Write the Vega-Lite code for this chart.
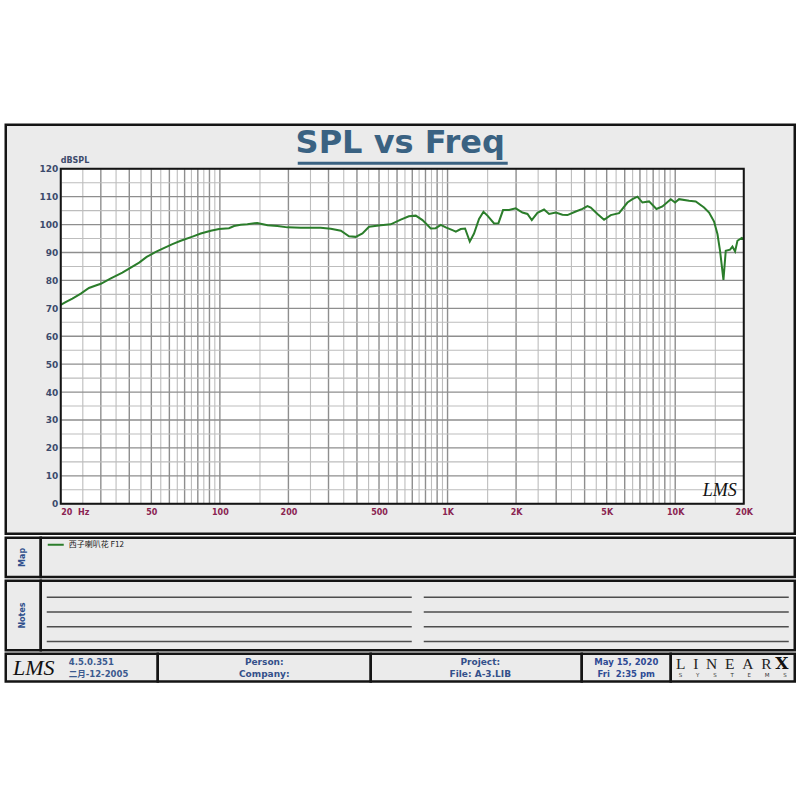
{
  "$schema": "https://vega.github.io/schema/vega-lite/v6.json",
  "background": "white",
  "padding": {"top": 122.75, "left": 3.75, "right": 4.75, "bottom": 116.75},
  "spacing": 0,
  "config": {
    "view": {"fill": "#ebebeb", "stroke": "#141414", "strokeWidth": 2.5},
    "axisX": {
      "offset": -30, "grid": false, "ticks": false, "domain": false, "title": null,
      "labelFont": "DejaVu Sans", "labelFontSize": 8, "labelFontWeight": "bold", "labelColor": "#8a2451",
      "labelPadding": 5, "labelBaseline": "top", "labelOverlap": false, "labelFlush": false, "labelBound": false
    },
    "axisY": {
      "offset": -55, "grid": false, "ticks": false, "domain": false, "title": null,
      "labelFont": "DejaVu Sans", "labelFontSize": 9, "labelFontWeight": "bold", "labelColor": "#3c4a6b",
      "labelPadding": 3, "labelOverlap": false, "labelFlush": false, "labelBound": false
    }
  },
  "datasets": {
    "spl": [
      {"f": 20, "db": 71.2}, {"f": 21, "db": 72.2}, {"f": 22.5, "db": 73.5}, {"f": 24.5, "db": 75.3},
      {"f": 26.6, "db": 77.3}, {"f": 28.5, "db": 78.2}, {"f": 30, "db": 78.8}, {"f": 33.2, "db": 80.7},
      {"f": 37.3, "db": 82.8}, {"f": 40.6, "db": 84.6}, {"f": 44.2, "db": 86.4}, {"f": 47.7, "db": 88.4},
      {"f": 52.3, "db": 90.2}, {"f": 56.7, "db": 91.6}, {"f": 61.9, "db": 93.0}, {"f": 67.3, "db": 94.2},
      {"f": 75.8, "db": 95.7}, {"f": 82.4, "db": 96.8}, {"f": 91.2, "db": 97.8}, {"f": 99.2, "db": 98.4},
      {"f": 109.7, "db": 98.7}, {"f": 115.4, "db": 99.5}, {"f": 123.5, "db": 99.9}, {"f": 132, "db": 100.1},
      {"f": 146, "db": 100.6}, {"f": 162, "db": 99.8}, {"f": 179, "db": 99.5}, {"f": 198, "db": 99.0},
      {"f": 227, "db": 98.9}, {"f": 277, "db": 98.9}, {"f": 307, "db": 98.5}, {"f": 340, "db": 97.8},
      {"f": 369, "db": 95.8}, {"f": 395, "db": 95.6}, {"f": 423, "db": 96.8}, {"f": 452, "db": 99.2},
      {"f": 509, "db": 99.8}, {"f": 563, "db": 100.1}, {"f": 623, "db": 101.8}, {"f": 676, "db": 103.0},
      {"f": 725, "db": 103.2}, {"f": 776, "db": 101.6}, {"f": 844, "db": 98.6}, {"f": 887, "db": 98.7},
      {"f": 934, "db": 99.9}, {"f": 982, "db": 99.0}, {"f": 1051, "db": 98.0}, {"f": 1087, "db": 97.5},
      {"f": 1143, "db": 98.4}, {"f": 1194, "db": 98.6}, {"f": 1252, "db": 93.9}, {"f": 1307, "db": 96.8},
      {"f": 1375, "db": 102.0}, {"f": 1438, "db": 104.6}, {"f": 1497, "db": 103.2}, {"f": 1601, "db": 100.4},
      {"f": 1673, "db": 100.5}, {"f": 1753, "db": 105.2}, {"f": 1863, "db": 105.2}, {"f": 1993, "db": 105.8},
      {"f": 2133, "db": 104.3}, {"f": 2244, "db": 103.8}, {"f": 2344, "db": 101.6}, {"f": 2482, "db": 104.2},
      {"f": 2654, "db": 105.4}, {"f": 2792, "db": 103.8}, {"f": 2988, "db": 104.3}, {"f": 3196, "db": 103.5},
      {"f": 3362, "db": 103.4}, {"f": 3656, "db": 104.7}, {"f": 3914, "db": 105.6}, {"f": 4116, "db": 106.6},
      {"f": 4256, "db": 106.1}, {"f": 4555, "db": 103.8}, {"f": 4869, "db": 101.7}, {"f": 5210, "db": 103.4},
      {"f": 5666, "db": 104.1}, {"f": 6168, "db": 107.9}, {"f": 6488, "db": 109.1}, {"f": 6824, "db": 110.0},
      {"f": 7178, "db": 107.9}, {"f": 7674, "db": 108.3}, {"f": 8270, "db": 105.6}, {"f": 8788, "db": 106.5},
      {"f": 9558, "db": 109.1}, {"f": 9984, "db": 107.9}, {"f": 10396, "db": 109.1}, {"f": 11504, "db": 108.5},
      {"f": 12306, "db": 108.3}, {"f": 13384, "db": 106.1}, {"f": 14083, "db": 104.3}, {"f": 14812, "db": 101.1},
      {"f": 15328, "db": 96.6}, {"f": 15736, "db": 90.6}, {"f": 16286, "db": 80.2}, {"f": 16670, "db": 90.6},
      {"f": 17412, "db": 91.0}, {"f": 17840, "db": 92.1}, {"f": 18316, "db": 90.4}, {"f": 18764, "db": 94.2},
      {"f": 19600, "db": 95.2}, {"f": 20000, "db": 94.8}
    ],
    "vgrid": [
      {"f": 20, "major": true}, {"f": 25, "major": false}, {"f": 30, "major": true}, {"f": 35, "major": false},
      {"f": 40, "major": true}, {"f": 45, "major": false}, {"f": 50, "major": true}, {"f": 55, "major": false},
      {"f": 60, "major": true}, {"f": 65, "major": false}, {"f": 70, "major": true}, {"f": 75, "major": false},
      {"f": 80, "major": true}, {"f": 85, "major": false}, {"f": 90, "major": true}, {"f": 95, "major": false},
      {"f": 100, "major": true}, {"f": 150, "major": false}, {"f": 200, "major": true}, {"f": 250, "major": false},
      {"f": 300, "major": true}, {"f": 350, "major": false}, {"f": 400, "major": true}, {"f": 450, "major": false},
      {"f": 500, "major": true}, {"f": 550, "major": false}, {"f": 600, "major": true}, {"f": 650, "major": false},
      {"f": 700, "major": true}, {"f": 750, "major": false}, {"f": 800, "major": true}, {"f": 850, "major": false},
      {"f": 900, "major": true}, {"f": 950, "major": false}, {"f": 1000, "major": true}, {"f": 1500, "major": false},
      {"f": 2000, "major": true}, {"f": 2500, "major": false}, {"f": 3000, "major": true}, {"f": 3500, "major": false},
      {"f": 4000, "major": true}, {"f": 4500, "major": false}, {"f": 5000, "major": true}, {"f": 5500, "major": false},
      {"f": 6000, "major": true}, {"f": 6500, "major": false}, {"f": 7000, "major": true}, {"f": 7500, "major": false},
      {"f": 8000, "major": true}, {"f": 8500, "major": false}, {"f": 9000, "major": true}, {"f": 9500, "major": false},
      {"f": 10000, "major": true}, {"f": 15000, "major": false}, {"f": 20000, "major": true}
    ],
    "hgrid": [
      {"db": 0, "major": true}, {"db": 5, "major": false}, {"db": 10, "major": true}, {"db": 15, "major": false},
      {"db": 20, "major": true}, {"db": 25, "major": false}, {"db": 30, "major": true}, {"db": 35, "major": false},
      {"db": 40, "major": true}, {"db": 45, "major": false}, {"db": 50, "major": true}, {"db": 55, "major": false},
      {"db": 60, "major": true}, {"db": 65, "major": false}, {"db": 70, "major": true}, {"db": 75, "major": false},
      {"db": 80, "major": true}, {"db": 85, "major": false}, {"db": 90, "major": true}, {"db": 95, "major": false},
      {"db": 100, "major": true}, {"db": 105, "major": false}, {"db": 110, "major": true}, {"db": 115, "major": false},
      {"db": 120, "major": true}
    ],
    "notes": [
      {"col": "L", "line": 1}, {"col": "L", "line": 2}, {"col": "L", "line": 3}, {"col": "L", "line": 4},
      {"col": "R", "line": 1}, {"col": "R", "line": 2}, {"col": "R", "line": 3}, {"col": "R", "line": 4}
    ]
  },
  "vconcat": [
    {
      "width": 789,
      "height": 409,
      "title": {"text": "SPL vs Freq", "font": "DejaVu Sans", "fontSize": 32, "fontWeight": "bold", "color": "#3a6282", "anchor": "middle", "frame": "group", "offset": -35},
      "layer": [
        {
          "data": {"values": [{}]},
          "mark": {"type": "rect", "fill": "white"},
          "encoding": {
            "x": {"datum": 20, "type": "quantitative", "scale": {"type": "log", "domain": [11.468, 33497], "nice": false},
              "axis": {"values": [20, 50, 100, 200, 500, 1000, 2000, 5000, 10000, 20000], "labelExpr": "datum.value >= 1000 ? (datum.value / 1000) + 'K' : (datum.value == 20 ? '20\u00a0 Hz' : datum.label)", "labelAlign": {"condition": {"test": "datum.value == 20", "value": "left"}, "value": "center"}}},
            "x2": {"datum": 20000},
            "y": {"datum": 0, "type": "quantitative", "scale": {"domain": [-10.746, 135.76], "nice": false, "zero": false},
              "axis": {"values": [0, 10, 20, 30, 40, 50, 60, 70, 80, 90, 100, 110, 120]}},
            "y2": {"datum": 120}
          }
        },
        {
          "data": {"name": "vgrid"},
          "mark": {"type": "rule"},
          "encoding": {
            "x": {"field": "f", "type": "quantitative", "scale": {"type": "log", "domain": [11.468, 33497], "nice": false},
              "axis": {"values": [20, 50, 100, 200, 500, 1000, 2000, 5000, 10000, 20000], "labelExpr": "datum.value >= 1000 ? (datum.value / 1000) + 'K' : (datum.value == 20 ? '20\u00a0 Hz' : datum.label)", "labelAlign": {"condition": {"test": "datum.value == 20", "value": "left"}, "value": "center"}}},
            "y": {"datum": 0, "type": "quantitative", "scale": {"domain": [-10.746, 135.76], "nice": false, "zero": false},
              "axis": {"values": [0, 10, 20, 30, 40, 50, 60, 70, 80, 90, 100, 110, 120]}},
            "y2": {"datum": 120},
            "color": {"condition": {"test": "datum.major", "value": "#8e8e8e"}, "value": "#bdbdbd"},
            "strokeWidth": {"condition": {"test": "datum.major", "value": 1.4}, "value": 1.1}
          }
        },
        {
          "data": {"name": "hgrid"},
          "mark": {"type": "rule"},
          "encoding": {
            "y": {"field": "db", "type": "quantitative", "scale": {"domain": [-10.746, 135.76], "nice": false, "zero": false},
              "axis": {"values": [0, 10, 20, 30, 40, 50, 60, 70, 80, 90, 100, 110, 120]}},
            "x": {"datum": 20, "type": "quantitative", "scale": {"type": "log", "domain": [11.468, 33497], "nice": false},
              "axis": {"values": [20, 50, 100, 200, 500, 1000, 2000, 5000, 10000, 20000], "labelExpr": "datum.value >= 1000 ? (datum.value / 1000) + 'K' : (datum.value == 20 ? '20\u00a0 Hz' : datum.label)", "labelAlign": {"condition": {"test": "datum.value == 20", "value": "left"}, "value": "center"}}},
            "x2": {"datum": 20000},
            "color": {"condition": {"test": "datum.major", "value": "#8e8e8e"}, "value": "#bdbdbd"},
            "strokeWidth": {"condition": {"test": "datum.major", "value": 1.4}, "value": 1.1}
          }
        },
        {
          "data": {"name": "spl"},
          "mark": {"type": "line", "strokeWidth": 2},
          "encoding": {
            "x": {"field": "f", "type": "quantitative", "scale": {"type": "log", "domain": [11.468, 33497], "nice": false},
              "axis": {"values": [20, 50, 100, 200, 500, 1000, 2000, 5000, 10000, 20000], "labelExpr": "datum.value >= 1000 ? (datum.value / 1000) + 'K' : (datum.value == 20 ? '20\u00a0 Hz' : datum.label)", "labelAlign": {"condition": {"test": "datum.value == 20", "value": "left"}, "value": "center"}}},
            "y": {"field": "db", "type": "quantitative", "scale": {"domain": [-10.746, 135.76], "nice": false, "zero": false},
              "axis": {"values": [0, 10, 20, 30, 40, 50, 60, 70, 80, 90, 100, 110, 120]}},
            "color": {
              "datum": "西子喇叭花 F12", "type": "nominal",
              "scale": {"range": ["#2b7d2b"]},
              "legend": {
                "orient": "none", "legendX": 41, "legendY": 411, "title": null, "zindex": 1, "padding": 0,
                "symbolType": "stroke", "symbolStrokeWidth": 2, "symbolSize": 256, "labelOffset": 4,
                "labelFont": "Noto Sans CJK SC", "labelFontSize": 8, "labelColor": "#1a1a1a"
              }
            }
          }
        },
        {
          "data": {"values": [{}]},
          "mark": {"type": "rect", "filled": false, "stroke": "#141414", "strokeWidth": 2},
          "encoding": {
            "x": {"datum": 20, "type": "quantitative", "scale": {"type": "log", "domain": [11.468, 33497], "nice": false},
              "axis": {"values": [20, 50, 100, 200, 500, 1000, 2000, 5000, 10000, 20000], "labelExpr": "datum.value >= 1000 ? (datum.value / 1000) + 'K' : (datum.value == 20 ? '20\u00a0 Hz' : datum.label)", "labelAlign": {"condition": {"test": "datum.value == 20", "value": "left"}, "value": "center"}}},
            "x2": {"datum": 20000},
            "y": {"datum": 0, "type": "quantitative", "scale": {"domain": [-10.746, 135.76], "nice": false, "zero": false},
              "axis": {"values": [0, 10, 20, 30, 40, 50, 60, 70, 80, 90, 100, 110, 120]}},
            "y2": {"datum": 120}
          }
        },
        {
          "data": {"values": [{}]},
          "mark": {"type": "text", "text": "dBSPL", "align": "left", "baseline": "bottom", "dy": -4, "font": "DejaVu Sans", "fontSize": 8, "fontWeight": "bold", "color": "#3c4a6b"},
          "encoding": {
            "x": {"datum": 20, "type": "quantitative", "scale": {"type": "log", "domain": [11.468, 33497], "nice": false},
              "axis": {"values": [20, 50, 100, 200, 500, 1000, 2000, 5000, 10000, 20000], "labelExpr": "datum.value >= 1000 ? (datum.value / 1000) + 'K' : (datum.value == 20 ? '20\u00a0 Hz' : datum.label)", "labelAlign": {"condition": {"test": "datum.value == 20", "value": "left"}, "value": "center"}}},
            "y": {"datum": 120, "type": "quantitative", "scale": {"domain": [-10.746, 135.76], "nice": false, "zero": false},
              "axis": {"values": [0, 10, 20, 30, 40, 50, 60, 70, 80, 90, 100, 110, 120]}}
          }
        },
        {
          "data": {"values": [{}]},
          "mark": {"type": "text", "text": "LMS", "font": "Liberation Serif", "fontStyle": "italic", "fontSize": 18, "color": "#111111"},
          "encoding": {
            "x": {"datum": 15691, "type": "quantitative", "scale": {"type": "log", "domain": [11.468, 33497], "nice": false},
              "axis": {"values": [20, 50, 100, 200, 500, 1000, 2000, 5000, 10000, 20000], "labelExpr": "datum.value >= 1000 ? (datum.value / 1000) + 'K' : (datum.value == 20 ? '20\u00a0 Hz' : datum.label)", "labelAlign": {"condition": {"test": "datum.value == 20", "value": "left"}, "value": "center"}}},
            "y": {"datum": 4.66, "type": "quantitative", "scale": {"domain": [-10.746, 135.76], "nice": false, "zero": false},
              "axis": {"values": [0, 10, 20, 30, 40, 50, 60, 70, 80, 90, 100, 110, 120]}}
          }
        },
        {
          "data": {"values": [{}]},
          "mark": {"type": "rule", "strokeWidth": 3, "color": "#3a6282"},
          "encoding": {
            "x": {"datum": 219.8, "type": "quantitative", "scale": {"type": "log", "domain": [11.468, 33497], "nice": false},
              "axis": {"values": [20, 50, 100, 200, 500, 1000, 2000, 5000, 10000, 20000], "labelExpr": "datum.value >= 1000 ? (datum.value / 1000) + 'K' : (datum.value == 20 ? '20\u00a0 Hz' : datum.label)", "labelAlign": {"condition": {"test": "datum.value == 20", "value": "left"}, "value": "center"}}},
            "x2": {"datum": 1838},
            "y": {"datum": 121.97, "type": "quantitative", "scale": {"domain": [-10.746, 135.76], "nice": false, "zero": false},
              "axis": {"values": [0, 10, 20, 30, 40, 50, 60, 70, 80, 90, 100, 110, 120]}}
          }
        }
      ]
    },
    {
      "hconcat": [
        {
          "width": 35, "height": 39.25,
          "data": {"values": [{"label": "Map"}]},
          "mark": {"type": "text", "angle": 270, "font": "DejaVu Sans", "fontSize": 8, "fontWeight": "bold", "color": "#2f4f8c"},
          "encoding": {
            "x": {"field": "label", "type": "nominal", "axis": null},
            "y": {"field": "label", "type": "nominal", "axis": null},
            "text": {"field": "label"}
          }
        },
        {
          "width": 754, "height": 39.25,
          "data": {"values": [{"k": "map"}]},
          "mark": {"type": "text", "text": ""},
          "encoding": {
            "x": {"field": "k", "type": "nominal", "axis": null},
            "y": {"field": "k", "type": "nominal", "axis": null}
          }
        }
      ],
      "spacing": 0,
      "bounds": "flush"
    },
    {
      "hconcat": [
        {
          "width": 35, "height": 69.5,
          "data": {"values": [{"label": "Notes"}]},
          "mark": {"type": "text", "angle": 270, "font": "DejaVu Sans", "fontSize": 8, "fontWeight": "bold", "color": "#2f4f8c"},
          "encoding": {
            "x": {"field": "label", "type": "nominal", "axis": null},
            "y": {"field": "label", "type": "nominal", "axis": null},
            "text": {"field": "label"}
          }
        },
        {
          "width": 754, "height": 69.5,
          "data": {"name": "notes"},
          "mark": {"type": "tick", "orient": "horizontal", "size": 365, "thickness": 1.5, "color": "#4d4d4d", "opacity": 1},
          "encoding": {
            "x": {"field": "col", "type": "nominal", "axis": null, "scale": {"paddingInner": 0, "paddingOuter": 0}},
            "y": {"field": "line", "type": "ordinal", "axis": null, "scale": {"paddingInner": 0, "paddingOuter": 0.3527, "align": 0.87}}
          }
        }
      ],
      "spacing": 0,
      "bounds": "flush"
    },
    {
      "hconcat": [
        {
          "width": 152, "height": 27.75,
          "data": {"values": [{"logo": "LMS", "ver": "4.5.0.351\n二月-12-2005"}]},
          "encoding": {
            "x": {"field": "logo", "type": "nominal", "axis": null},
            "y": {"field": "logo", "type": "nominal", "axis": null}
          },
          "layer": [
            {
              "mark": {"type": "text", "font": "Liberation Serif", "fontStyle": "italic", "fontSize": 22, "color": "#111111", "dx": -48},
              "encoding": {"text": {"field": "logo"}}
            },
            {
              "mark": {"type": "text", "align": "left", "dx": -13, "dy": -6, "lineBreak": "\n", "lineHeight": 12, "font": "DejaVu Sans, Noto Sans CJK SC", "fontSize": 8.5, "fontWeight": "bold", "color": "#3b5a8f"},
              "encoding": {"text": {"field": "ver"}}
            }
          ]
        },
        {
          "width": 213, "height": 27.75,
          "data": {"values": [{"t": "Person:\nCompany:"}]},
          "mark": {"type": "text", "dy": -6, "lineBreak": "\n", "lineHeight": 12, "font": "DejaVu Sans", "fontSize": 9, "fontWeight": "bold", "color": "#34508a"},
          "encoding": {
            "x": {"field": "t", "type": "nominal", "axis": null},
            "y": {"field": "t", "type": "nominal", "axis": null},
            "text": {"field": "t"}
          }
        },
        {
          "width": 211, "height": 27.75,
          "data": {"values": [{"t": "Project:\nFile: A-3.LIB"}]},
          "mark": {"type": "text", "dy": -6, "lineBreak": "\n", "lineHeight": 12, "font": "DejaVu Sans", "fontSize": 9, "fontWeight": "bold", "color": "#34508a", "dx": 4},
          "encoding": {
            "x": {"field": "t", "type": "nominal", "axis": null},
            "y": {"field": "t", "type": "nominal", "axis": null},
            "text": {"field": "t"}
          }
        },
        {
          "width": 89, "height": 27.75,
          "data": {"values": [{"t": "May 15, 2020\nFri\u00a0 2:35 pm"}]},
          "mark": {"type": "text", "dy": -6, "lineBreak": "\n", "lineHeight": 12, "font": "DejaVu Sans", "fontSize": 8.5, "fontWeight": "bold", "color": "#2e4a94"},
          "encoding": {
            "x": {"field": "t", "type": "nominal", "axis": null},
            "y": {"field": "t", "type": "nominal", "axis": null},
            "text": {"field": "t"}
          }
        },
        {
          "width": 124, "height": 27.75,
          "data": {"values": [{"a": "L\u2002I\u2002N\u2002E\u2002A\u2002R", "b": "X", "c": "S\u2003\u2003\u2002Y\u2003\u2003\u2002S\u2003\u2003\u2002T\u2003\u2003\u2002E\u2003\u2003\u2002M\u2003\u2003\u2002S"}]},
          "encoding": {
            "x": {"field": "b", "type": "nominal", "axis": null},
            "y": {"field": "b", "type": "nominal", "axis": null}
          },
          "layer": [
            {
              "mark": {"type": "text", "font": "Liberation Serif", "fontSize": 15.5, "color": "#222222", "dx": -9, "dy": -4},
              "encoding": {"text": {"field": "a"}}
            },
            {
              "mark": {"type": "text", "font": "DejaVu Serif", "fontWeight": "bold", "fontSize": 17, "color": "#111111", "dx": 49, "dy": -4},
              "encoding": {"text": {"field": "b"}}
            },
            {
              "mark": {"type": "text", "font": "DejaVu Sans", "fontSize": 5.5, "color": "#333333", "dy": 7},
              "encoding": {"text": {"field": "c"}}
            }
          ]
        }
      ],
      "spacing": 0,
      "bounds": "flush"
    }
  ]
}
